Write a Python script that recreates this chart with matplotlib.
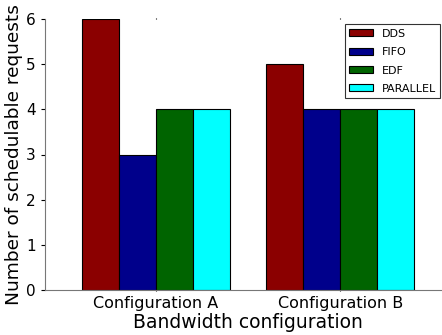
import numpy as np
import matplotlib
matplotlib.use("Agg")
import matplotlib.pyplot as plt

configs = ["Configuration A", "Configuration B"]
schedulers = ["DDS", "FIFO", "EDF", "PARALLEL"]
dds = [6, 5]
fifo = [3, 4]
edf = [4, 4]
parallel = [4, 4]
colors = ["#8b0000", "#00008b", "#006400", "#00ffff"]

series = [dds, fifo, edf, parallel]
width = 0.2
x = np.arange(len(configs))

fig = plt.figure(figsize=(4.42, 3.35), dpi=100)
ax = fig.add_axes([45 / 442, 45 / 335, 406 / 442, 271 / 335])

for i, (vals, name) in enumerate(zip(series, schedulers)):
    ax.bar(x - 0.4 + i * width, vals, width, align="edge",
           color=colors[i], edgecolor="black", linewidth=0.8, label=name)

ax.set_xlim(-0.6, 1.6)
ax.set_ylim(0, 6)
ax.set_xticks(x)
ax.set_xticklabels(configs, fontsize=11.5)
ax.tick_params(axis="y", labelsize=11, direction="out", length=3)
ax.tick_params(axis="x", direction="out", top=True, length=1)
ax.spines["top"].set_visible(False)
ax.spines["right"].set_visible(False)
ax.spines["left"].set_color("#777777")
ax.spines["bottom"].set_color("#777777")
ax.set_xlabel("Bandwidth configuration", fontsize=13.5, labelpad=1)
ax.set_ylabel("Number of schedulable requests", fontsize=13.3, labelpad=2)

leg = ax.legend(loc="upper left", bbox_to_anchor=(300 / 406, 0.98),
                fontsize=8, fancybox=False, edgecolor="black",
                handlelength=2.1, handleheight=0.6, handletextpad=0.8,
                borderpad=0.4, borderaxespad=0, labelspacing=0.75)
leg.get_frame().set_linewidth(0.8)

fig.savefig("out.png", dpi=100)
